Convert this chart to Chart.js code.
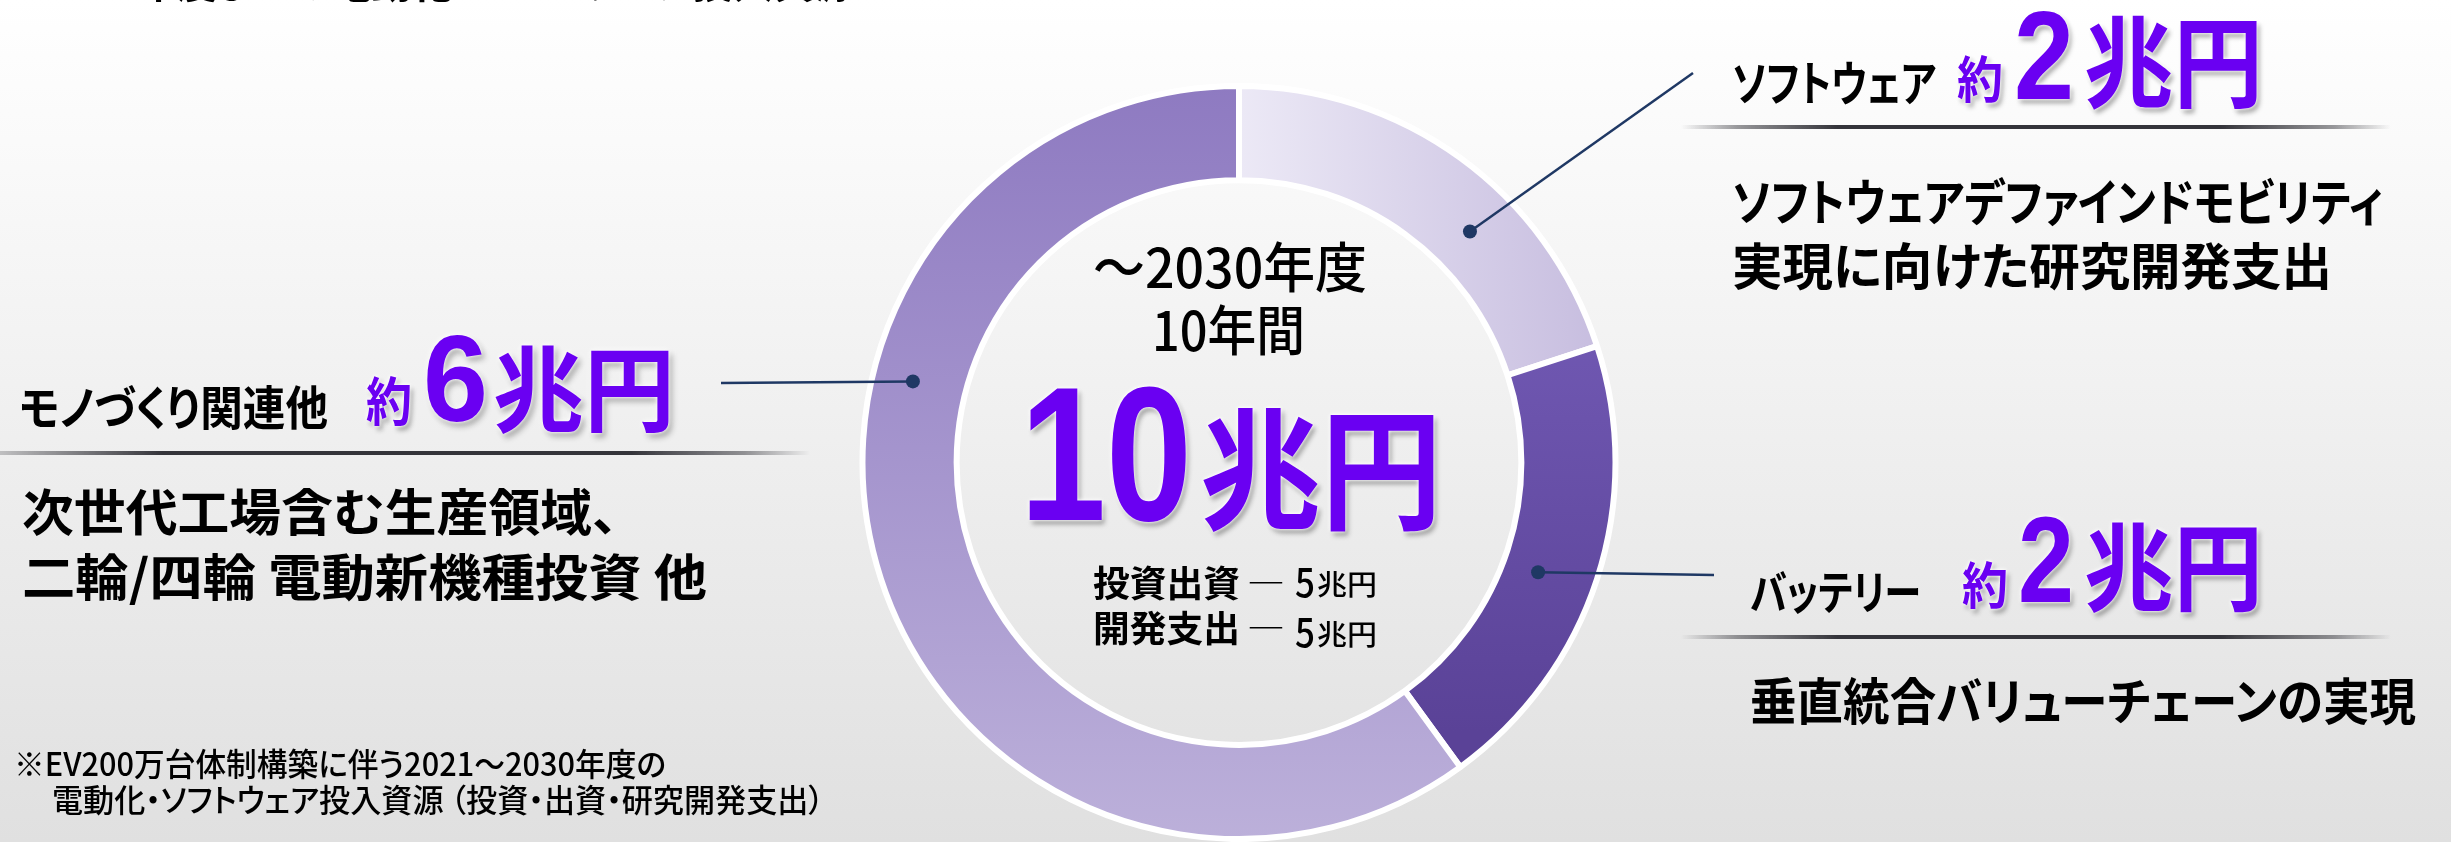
<!DOCTYPE html>
<html lang="ja">
<head>
<meta charset="utf-8">
<title>電動化・ソフトウェア投入資源</title>
<script src="https://cdn.jsdelivr.net/npm/chart.js@4.4.1/dist/chart.umd.min.js"></script>
<style>
    html, body { margin: 0; padding: 0; }
    body {
        width: 2451px;
        height: 842px;
        overflow: hidden;
        position: relative;
        background: linear-gradient(180deg, #ffffff 0%, #f9f9f9 20%, #e0e0e0 100%);
        font-family: "Noto Sans CJK JP", "Noto Sans", sans-serif;
        font-feature-settings: "palt";
        color: #000;
    }
    #chartJS { position: absolute; left: 0; top: 0; }
    .t {
        position: absolute;
        white-space: nowrap;
        line-height: 1;
        font-weight: 700;
        transform-origin: 0 0;
    }
    .m { font-weight: 500; }
    .num { font-family: "Liberation Sans", Arial, sans-serif; font-weight: 700; }
    .purple {
        color: #6a00f2;
        text-shadow: 0 0 3px #fff, 0 0 6px #fff, 3px 4px 6px rgba(0, 0, 0, 0.38);
    }
    .rule {
        position: absolute;
        height: 4px;
        background: linear-gradient(90deg, rgba(52,52,58,0) 0%, rgba(52,52,58,0.5) 8%, #34343a 22%, #34343a 76%, rgba(52,52,58,0.5) 92%, rgba(52,52,58,0) 100%);
    }
    .rule.left {
        background: linear-gradient(90deg, rgba(52,52,58,0.25) 0%, #34343a 20%, #34343a 78%, rgba(52,52,58,0.5) 92%, rgba(52,52,58,0) 100%);
    }
</style>
</head>
<body>
<canvas id="chartJS" width="2451" height="842"></canvas>

<!-- 見出し（上端で切れている） -->
<div class="t" style="left:40px; font-size:44px" data-b="-2" data-w="815">2030年度までの電動化・ソフトウェア投入資源</div>

<!-- ソフトウェア -->
<div class="t" style="left:1732px; font-size:48px" data-b="101" data-w="204" id="cat0"></div>
<div class="t purple" style="left:1957px; font-size:50px" data-b="97" data-w="46">約</div>
<div class="t purple num" style="left:2014px; font-size:127px" data-b="100" data-w="60" id="amt0"></div>
<div class="t purple" style="left:2084px; font-size:100px" data-b="100" data-w="179">兆円</div>
<div class="rule" style="left:1681px; top:125px; width:710px"></div>
<div class="t" style="left:1732px; font-size:50px" data-b="220" data-w="651">ソフトウェアデファインドモビリティ</div>
<div class="t" style="left:1732px; font-size:50px" data-b="284" data-w="600">実現に向けた研究開発支出</div>

<!-- バッテリー -->
<div class="t" style="left:1750px; font-size:46px" data-b="609" data-w="171" id="cat1"></div>
<div class="t purple" style="left:1962px; font-size:50px" data-b="603" data-w="46">約</div>
<div class="t purple num" style="left:2018px; font-size:123px" data-b="603" data-w="56" id="amt1"></div>
<div class="t purple" style="left:2084px; font-size:96px" data-b="603" data-w="179">兆円</div>
<div class="rule" style="left:1681px; top:635px; width:710px"></div>
<div class="t" style="left:1750px; font-size:50px" data-b="719" data-w="666">垂直統合バリューチェーンの実現</div>

<!-- モノづくり関連他 -->
<div class="t" style="left:19px; font-size:47px" data-b="425" data-w="309" id="cat2"></div>
<div class="t purple" style="left:366px; font-size:52px" data-b="421" data-w="46">約</div>
<div class="t purple num" style="left:423px; font-size:122px" data-b="422" data-w="65" id="amt2"></div>
<div class="t purple" style="left:493px; font-size:94px" data-b="424" data-w="182">兆円</div>
<div class="rule left" style="left:0px; top:451px; width:810px"></div>
<div class="t" style="left:22px; font-size:50px" data-b="530" data-w="596">次世代工場含む生産領域、</div>
<div class="t" style="left:22px; font-size:50px" data-b="595" data-w="685">二輪/四輪 電動新機種投資 他</div>

<!-- 中央 -->
<div class="t m" style="left:1093px; font-size:54px" data-b="288" data-w="274">～2030年度</div>
<div class="t m" style="left:1152px; font-size:54px" data-b="351" data-w="153">10年間</div>
<div class="t purple num" style="left:1020px; font-size:191px" data-b="520" data-w="172" id="total"></div>
<div class="t purple" style="left:1200px; font-size:132px" data-b="519" data-w="242">兆円</div>

<div class="t" style="left:1093px; font-size:36px" data-b="596" data-w="147" id="bdLabel0"></div>
<div class="t m" style="left:1247px; font-size:36px; font-weight:400" data-b="596" data-w="38">―</div>
<div class="t m" style="left:1295px; font-size:40px" data-b="597" data-w="20" id="bdAmt0"></div>
<div class="t m" style="left:1317px; font-size:28px" data-b="595" data-w="60">兆円</div>
<div class="t" style="left:1093px; font-size:36px" data-b="641" data-w="147" id="bdLabel1"></div>
<div class="t m" style="left:1247px; font-size:36px; font-weight:400" data-b="641" data-w="38">―</div>
<div class="t m" style="left:1295px; font-size:40px" data-b="647" data-w="20" id="bdAmt1"></div>
<div class="t m" style="left:1317px; font-size:28px" data-b="645" data-w="60">兆円</div>

<!-- 注記 -->
<div class="t m" style="left:14px; font-size:32px" data-b="776" data-w="652">※EV200万台体制構築に伴う2021～2030年度の</div>
<div class="t m" style="left:52px; font-size:32px" data-b="812" data-w="772">電動化・ソフトウェア投入資源 （投資・出資・研究開発支出）</div>

<script>
// 投入資源の内訳（兆円）
const categories = ['ソフトウェア', 'バッテリー', 'モノづくり関連他'];
const amounts = [2, 2, 6];

// 10年間の合計の内訳（兆円）
const breakdownLabels = ['投資出資', '開発支出'];
const breakdownAmounts = [5, 5];

// セグメントごとのグラデーション [始点, 終点]
const segmentColors = [
    ['#ece9f6', '#c5bbde'], // ソフトウェア（横方向）
    ['#6f57b1', '#5a4297'], // バッテリー（縦方向）
    ['#8e7ac1', '#bcb0da']  // モノづくり（縦方向）
];

function segmentFill(context) {
    const chart = context.chart;
    const area = chart.chartArea;
    const c = segmentColors[context.dataIndex];
    if (!area) return c[0];
    const cx = (area.left + area.right) / 2;
    const cy = (area.top + area.bottom) / 2;
    const r = Math.min(area.width, area.height) / 2;
    let g;
    if (context.dataIndex === 0) {
        g = chart.ctx.createLinearGradient(cx, 0, cx + r, 0);
    } else if (context.dataIndex === 1) {
        g = chart.ctx.createLinearGradient(0, cy - 0.31 * r, 0, cy + 0.71 * r);
    } else {
        g = chart.ctx.createLinearGradient(0, cy - r, 0, cy + r);
    }
    g.addColorStop(0, c[0]);
    g.addColorStop(1, c[1]);
    return g;
}

// 引き出し線（点はセグメント上の位置、線は見出しまで）
const leaderLines = {
    id: 'leaderLines',
    afterDatasetsDraw(chart, args, opts) {
        const ctx = chart.ctx;
        const arcs = chart.getDatasetMeta(0).data;
        ctx.save();
        ctx.strokeStyle = opts.color;
        ctx.fillStyle = opts.color;
        ctx.lineWidth = opts.width;
        opts.lines.forEach(l => {
            const p = arcs[l.index].getProps(['x', 'y', 'startAngle', 'endAngle', 'innerRadius', 'outerRadius'], true);
            const a = p.startAngle + (p.endAngle - p.startAngle) * l.along;
            const r = p.innerRadius + (p.outerRadius - p.innerRadius) * l.depth;
            const x = p.x + r * Math.cos(a);
            const y = p.y + r * Math.sin(a);
            ctx.beginPath();
            ctx.moveTo(x, y);
            ctx.lineTo(l.to[0], l.to[1]);
            ctx.stroke();
            ctx.beginPath();
            ctx.arc(x, y, opts.dot, 0, Math.PI * 2);
            ctx.fill();
        });
        ctx.restore();
    }
};

const data = {
    labels: categories,
    datasets: [{
        data: amounts,
        backgroundColor: segmentFill,
        borderColor: '#ffffff',
        borderWidth: 6,
        hoverOffset: 0
    }]
};

const config = {
    type: 'doughnut',
    data: data,
    options: {
        responsive: false,
        animation: false,
        events: [],
        cutout: '75%',
        layout: {
            padding: { top: 83, bottom: -3, left: 858, right: 831 }
        },
        plugins: {
            legend: { display: false },
            tooltip: { enabled: false },
            leaderLines: {
                color: '#1f3864',
                width: 2.5,
                dot: 7,
                lines: [
                    { index: 0, along: 0.625, depth: 0.47, to: [1693, 73] },
                    { index: 1, along: 0.53, depth: 0.385, to: [1714, 575] },
                    { index: 2, along: 0.648, depth: 0.57, to: [721, 383] }
                ]
            }
        }
    },
    plugins: [leaderLines]
};

const myChart = new Chart(document.getElementById('chartJS'), config);

// 見出しの文字をデータから埋める
categories.forEach((c, i) => {
    document.getElementById('cat' + i).textContent = c;
    document.getElementById('amt' + i).textContent = amounts[i];
});
document.getElementById('total').textContent = amounts.reduce((a, b) => a + b, 0);
breakdownLabels.forEach((c, i) => {
    document.getElementById('bdLabel' + i).textContent = c;
    document.getElementById('bdAmt' + i).textContent = breakdownAmounts[i];
});

// ベースライン位置と横幅を合わせる
function baselineRatio(cls) {
    const probe = document.createElement('div');
    probe.className = cls;
    probe.style.fontSize = '100px';
    probe.style.top = '0px';
    probe.innerHTML = '2<span style="display:inline-block;width:1px;height:0;vertical-align:baseline"></span>';
    document.body.appendChild(probe);
    const r = probe.lastChild.getBoundingClientRect().top - probe.getBoundingClientRect().top;
    probe.remove();
    return r / 100;
}

function layoutText() {
    const ratioCjk = baselineRatio('t');
    const ratioNum = baselineRatio('t num');
    document.querySelectorAll('.t').forEach(el => {
        const size = parseFloat(el.style.fontSize);
        const ratio = el.classList.contains('num') ? ratioNum : ratioCjk;
        el.style.transform = '';
        el.style.top = (parseFloat(el.dataset.b) - ratio * size) + 'px';
        const w = parseFloat(el.dataset.w);
        const natural = el.getBoundingClientRect().width;
        if (w && natural) el.style.transform = 'scaleX(' + (w / natural) + ')';
    });
}

layoutText();
document.fonts.ready.then(layoutText);
</script>
</body>
</html>
